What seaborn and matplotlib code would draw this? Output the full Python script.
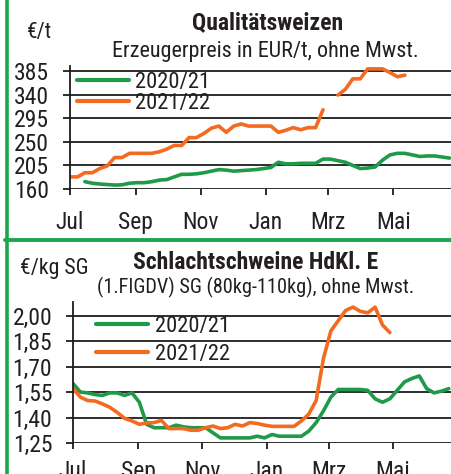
"""
Qualitaetsweizen / Schlachtschweine price comparison, season 2020/21 vs 2021/22
"""

import numpy as np
import pandas as pd
import matplotlib
matplotlib.use('Agg')
import matplotlib.pyplot as plt
import matplotlib.dates as mdates
from matplotlib import font_manager as fm
from matplotlib.lines import Line2D
import seaborn as sns

nan = np.nan

SEASONS = ['2020/21', '2021/22']
SEASON_COLORS = {'2020/21': '#1f9a48', '2021/22': '#f36a21'}
MONTH_LABELS = {7: 'Jul', 9: 'Sep', 11: 'Nov', 1: 'Jan', 3: 'Mrz', 5: 'Mai'}

# weekly values, week 0 = 1 July
WHEAT_2020 = [nan, nan, 174, 171, 169.5, 168.5, 167.5, 168, 171, 172,
              172, 174, 177, 178, 183, 188, 188, 189, 191, 194,
              197, 196, 194, 195, 196, 197, 199, 201, 211, 208,
              208, 209, 209, 209, 217, 217, 214, 211, 205, 199,
              200, 202, 215, 225, 228, 228, 225, 222, 223, 223,
              221, 219]
WHEAT_2021 = [183, 183, 191, 191, 199, 204, 220, 220, 228, 228,
              228, 228, 231, 236, 243, 243, 258, 258, 266, 276,
              280, 268, 280, 284, 280, 280, 280, 280, 268, 272,
              277, 273, 277, 277, 311, nan, 339, 350, 370, 370,
              389, 389, 389, 382, 374, 377, nan, nan, nan, nan,
              nan, nan]
WHEAT_YTICKS = [160, 205, 250, 295, 340, 385]

PIG_2020 = [1.60, 1.55, 1.545, 1.535, 1.53, 1.545, 1.545, 1.53, 1.545, 1.49,
            1.36, 1.34, 1.34, 1.34, 1.355, 1.345, 1.34, 1.34, 1.34, 1.31,
            1.28, 1.28, 1.28, 1.28, 1.28, 1.29, 1.28, 1.30, 1.29, 1.29,
            1.29, 1.29, 1.32, 1.37, 1.44, 1.52, 1.565, 1.565, 1.565, 1.565,
            1.56, 1.51, 1.49, 1.51, 1.56, 1.61, 1.63, 1.645, 1.57, 1.545,
            1.555, 1.57]
PIG_2021 = [1.57, 1.52, 1.50, 1.497, 1.48, 1.46, 1.43, 1.395, 1.38, 1.36,
            1.368, 1.37, 1.383, 1.335, 1.335, 1.335, 1.325, 1.325, 1.34, 1.35,
            1.335, 1.34, 1.36, 1.35, 1.37, 1.365, 1.355, 1.348, 1.348, 1.348,
            1.348, 1.38, 1.42, 1.50, 1.75, 1.91, 1.97, 2.03, 2.05, 2.025,
            2.016, 2.05, 1.945, 1.90, nan, nan, nan, nan, nan, nan,
            nan, nan]
PIG_YTICKS = [1.25, 1.40, 1.55, 1.70, 1.85, 2.00]

SEASON_START = pd.Timestamp('2021-07-01')
WEEK_DATES = pd.date_range(SEASON_START, periods=52, freq='7D')

GREEN_FRAME = '#1aa64e'
GRID = '#1c1c1c'
INK = '#231f20'

sns.set_theme(style='white')

# the original uses a condensed grotesk; take a narrow face if one is installed
_names = {f.name for f in fm.fontManager.ttflist}
FAMILY = next((c for c in ['Liberation Sans Narrow', 'Roboto Condensed',
                           'Arial Narrow', 'DejaVu Sans Condensed']
               if c in _names), 'Liberation Sans')
plt.rcParams['font.family'] = [FAMILY, 'DejaVu Sans']

W, H = 451, 474
fig = plt.figure(figsize=(W / 100, H / 100), dpi=100)
renderer = fig.canvas.get_renderer()


def fit_size(text, width_px, weight='normal'):
    """font size that makes `text` about width_px wide"""
    t = fig.text(0, 0, text, fontsize=20, fontweight=weight)
    w = t.get_window_extent(renderer).width
    t.remove()
    return 20 * width_px / w


TICK_SIZE = fit_size('385', 35)
LEGEND_SIZE = fit_size('2020/21', 75)


def to_long(series_by_season):
    """Long table with a segment id so gaps (NaN) stay gaps"""
    frames = []
    for season, values in series_by_season.items():
        s = pd.Series(values, dtype=float)
        seg = s.isna().cumsum()
        df = pd.DataFrame({'date': WEEK_DATES, 'value': s,
                           'season': season, 'segment': seg})
        frames.append(df.dropna())
    return pd.concat(frames, ignore_index=True)


def draw_panel(ax, data, yticks, ylim, xlim_weeks, fmt, legend_anchor,
               labelspacing, xpad):
    for season in SEASONS:
        sub = data[data['season'] == season]
        sns.lineplot(data=sub, x='date', y='value', units='segment',
                     estimator=None, color=SEASON_COLORS[season], lw=2.6,
                     ax=ax, legend=False)

    ax.set_ylim(*ylim)
    ax.set_xlim(SEASON_START, SEASON_START + pd.Timedelta(weeks=xlim_weeks))
    ax.set_yticks(yticks)
    ax.set_yticklabels([fmt(v) for v in yticks])
    ax.xaxis.set_major_locator(mdates.MonthLocator(bymonth=list(MONTH_LABELS)))
    ax.xaxis.set_major_formatter(
        matplotlib.ticker.FuncFormatter(lambda x, pos: MONTH_LABELS[mdates.num2date(x).month]))
    ax.set_xlabel('')
    ax.set_ylabel('')

    ax.yaxis.grid(True, color=GRID, lw=1.3)
    ax.set_axisbelow(True)
    for side in ['top', 'right', 'bottom']:
        ax.spines[side].set_visible(False)
    ax.spines['left'].set_color(GRID)
    ax.spines['left'].set_linewidth(1.3)
    ax.tick_params(axis='y', which='major', direction='out', length=5,
                   width=1.3, color=GRID, pad=10, labelsize=TICK_SIZE,
                   labelcolor=INK, left=True)
    ax.tick_params(axis='x', which='major', direction='out', length=4.5,
                   width=1.3, color=GRID, pad=xpad, labelsize=TICK_SIZE,
                   labelcolor=INK, bottom=True)

    handles = [Line2D([], [], color=SEASON_COLORS[s], lw=3) for s in SEASONS]
    ax.legend(handles, SEASONS, loc='upper left', bbox_to_anchor=legend_anchor,
              frameon=False, fontsize=LEGEND_SIZE, handlelength=2.3,
              handletextpad=0.3, labelspacing=labelspacing, borderpad=0,
              borderaxespad=0, labelcolor=INK)


# top panel: wheat
ax1 = fig.add_axes([70 / W, 1 - 189 / H, (W - 70) / W, 123 / H])
draw_panel(ax1, to_long({'2020/21': WHEAT_2020, '2021/22': WHEAT_2021}),
           WHEAT_YTICKS, (160, 394.5), 51.2, lambda v: f'{v:d}',
           (0.018, 0.95), 0.0, 11)

# bottom panel: pigs
ax2 = fig.add_axes([73 / W, 1 - 443 / H, (W - 73) / W, 141 / H])
draw_panel(ax2, to_long({'2020/21': PIG_2020, '2021/22': PIG_2021}),
           PIG_YTICKS, (1.25, 2.08), 51.3, lambda v: f'{v:.2f}'.replace('.', ','),
           (0.061, 0.90), 0.3, 8)

# titles: (text, left px, right px, baseline px, bold)
TITLES = [
    ('Qualitätsweizen', 192, 343, 29, True),
    ('Erzeugerpreis in EUR/t, ohne Mwst.', 113, 418, 57, False),
    ('€/t', 27, 52, 38, False),
    ('Schlachtschweine HdKl. E', 133, 378, 269, True),
    ('(1.FIGDV) SG (80kg-110kg), ohne Mwst.', 97, 415, 293, False),
    ('€/kg SG', 20, 89, 274, False),
]
for text, x0, x1, base, bold in TITLES:
    weight = 'bold' if bold else 'normal'
    fig.text((x0 + x1) / 2 / W, 1 - base / H, text, ha='center', va='baseline',
             fontsize=fit_size(text, x1 - x0, weight), fontweight=weight,
             color=INK)

# green frame: left edge and panel separator
fig.add_artist(Line2D([6.5 / W, 6.5 / W], [0, 1], color=GREEN_FRAME, lw=2.6,
                      transform=fig.transFigure))
fig.add_artist(Line2D([5 / W, 1], [1 - 239.5 / H, 1 - 239.5 / H],
                      color=GREEN_FRAME, lw=2.8, transform=fig.transFigure))

fig.savefig('out.png', dpi=100)
plt.close(fig)
